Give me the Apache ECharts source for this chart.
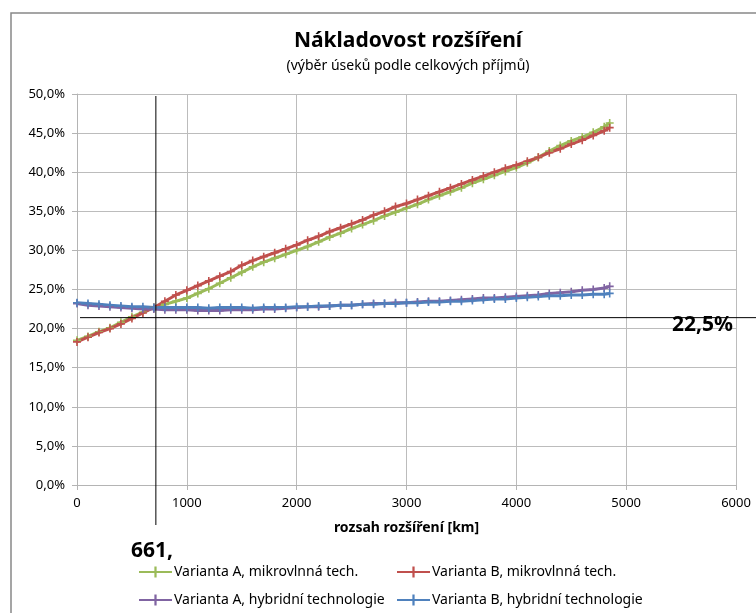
<!DOCTYPE html>
<html>
<head>
<meta charset="utf-8">
<title>Nákladovost rozšíření</title>
<script src="https://cdn.jsdelivr.net/npm/echarts@6/dist/echarts.min.js"></script>
<style>
  html, body { margin: 0; padding: 0; background: #fff; }
  #chart { width: 756px; height: 613px; }
</style>
</head>
<body>
<div id="chart"></div>
<script>
// rozsah rozšíření [km]
const km = [
  0, 100, 200, 300, 400, 500, 600, 700, 800, 900,
  1000, 1100, 1200, 1300, 1400, 1500, 1600, 1700, 1800, 1900,
  2000, 2100, 2200, 2300, 2400, 2500, 2600, 2700, 2800, 2900,
  3000, 3100, 3200, 3300, 3400, 3500, 3600, 3700, 3800, 3900,
  4000, 4100, 4200, 4300, 4400, 4500, 4600, 4700, 4800, 4850
];

// nákladovost [%]
const aMikro = [
  18.5, 19.0, 19.6, 20.1, 20.8, 21.5, 22.1, 22.7, 23.1, 23.5,
  23.9, 24.5, 25.1, 25.8, 26.5, 27.2, 27.9, 28.5, 29.0, 29.5,
  30.0, 30.5, 31.1, 31.7, 32.2, 32.8, 33.3, 33.8, 34.4, 34.9,
  35.4, 35.9, 36.5, 37.0, 37.5, 38.0, 38.6, 39.1, 39.6, 40.1,
  40.6, 41.2, 41.9, 42.7, 43.4, 44.0, 44.5, 45.1, 45.8, 46.3
];
const bMikro = [
  18.3, 18.9, 19.5, 20.0, 20.6, 21.3, 22.0, 22.7, 23.5, 24.3,
  24.9, 25.5, 26.1, 26.7, 27.3, 28.1, 28.7, 29.2, 29.7, 30.2,
  30.7, 31.3, 31.8, 32.4, 32.9, 33.4, 33.9, 34.5, 35.0, 35.6,
  36.0, 36.5, 37.0, 37.5, 38.0, 38.5, 39.0, 39.5, 40.0, 40.5,
  40.9, 41.4, 41.9, 42.5, 43.0, 43.6, 44.1, 44.7, 45.3, 45.7
];
const aHybrid = [
  23.2, 23.0, 22.9, 22.8, 22.7, 22.6, 22.5, 22.5, 22.4, 22.4,
  22.4, 22.3, 22.3, 22.3, 22.4, 22.4, 22.4, 22.5, 22.5, 22.6,
  22.7, 22.8, 22.8, 22.9, 23.0, 23.0, 23.1, 23.2, 23.2, 23.3,
  23.3, 23.4, 23.5, 23.5, 23.6, 23.7, 23.8, 23.9, 23.9, 24.0,
  24.1, 24.2, 24.3, 24.5, 24.6, 24.7, 24.9, 25.0, 25.2, 25.4
];
const bHybrid = [
  23.3, 23.2, 23.1, 23.0, 22.9, 22.8, 22.8, 22.7, 22.7, 22.7,
  22.7, 22.7, 22.6, 22.7, 22.7, 22.7, 22.6, 22.7, 22.7, 22.7,
  22.8, 22.8, 22.9, 22.9, 23.0, 23.0, 23.1, 23.1, 23.2, 23.2,
  23.3, 23.3, 23.4, 23.4, 23.5, 23.5, 23.6, 23.7, 23.8, 23.8,
  23.9, 24.0, 24.1, 24.2, 24.2, 24.3, 24.3, 24.4, 24.4, 24.5
];

const seriesNames = [
  "Varianta A, mikrovlnná tech.",
  "Varianta B, mikrovlnná tech.",
  "Varianta A, hybridní technologie",
  "Varianta B, hybridní technologie"
];
const seriesColors = ["#9bbb59", "#c0504d", "#8064a2", "#4f81bd"];
const seriesData = [aMikro, bMikro, aHybrid, bHybrid];

// vodicí čáry
const cutKm = 718;
const cutPct = 21.4;
const cutKmLabel = "661,";
const cutPctLabel = "22,5%";

const font = "'Noto Sans', 'Open Sans', sans-serif";
const plus = "path://M4,0h2v4h4v2h-4v4h-2v-4h-4v-2h4z";

function pct(v) {
  return v.toFixed(1).replace(".", ",") + "%";
}

// jedna položka legendy = jedna komponenta (2 sloupce x 2 řádky)
const legendSlots = [
  { left: 138, top: 565 },
  { left: 396, top: 565 },
  { left: 138, top: 593 },
  { left: 396, top: 593 }
];

const chart = echarts.init(document.getElementById("chart"));

chart.setOption({
  animation: false,
  textStyle: { fontFamily: font },
  title: {
    text: "Nákladovost rozšíření",
    subtext: "(výběr úseků podle celkových příjmů)",
    left: 403,
    textAlign: "center",
    top: 26,
    itemGap: 7,
    textStyle: { fontFamily: font, fontSize: 21, fontWeight: "bold", color: "#000" },
    subtextStyle: { fontFamily: font, fontSize: 14, color: "#000" }
  },
  legend: seriesNames.map((name, i) => ({
    data: [name],
    left: legendSlots[i].left,
    top: legendSlots[i].top,
    padding: 0,
    itemWidth: 33,
    itemHeight: 14,
    textStyle: { fontFamily: font, fontSize: 14, color: "#000", padding: [0, 0, 0, -3] }
  })),
  grid: { left: 77, right: 20, top: 94, bottom: 128 },
  xAxis: {
    type: "value",
    min: 0,
    max: 6000,
    interval: 1000,
    name: "rozsah rozšíření [km]",
    nameLocation: "middle",
    nameGap: 36,
    nameTextStyle: { fontFamily: font, fontSize: 14, fontWeight: "bold", color: "#000" },
    axisLine: { lineStyle: { color: "#b4b4b4" } },
    axisTick: { show: true, length: 5, lineStyle: { color: "#b4b4b4" } },
    axisLabel: { fontSize: 13, color: "#000", margin: 12, formatter: (v) => String(v) },
    splitLine: { show: true, lineStyle: { color: "#bcbcbc" } }
  },
  yAxis: {
    type: "value",
    min: 0,
    max: 50,
    interval: 5,
    axisLine: { show: true, lineStyle: { color: "#b4b4b4" } },
    axisTick: { show: true, length: 5, lineStyle: { color: "#b4b4b4" } },
    axisLabel: { fontSize: 13, color: "#000", margin: 12, formatter: pct },
    splitLine: { show: true, lineStyle: { color: "#bcbcbc" } }
  },
  series: seriesNames.map((name, i) => ({
    name: name,
    type: "line",
    data: km.map((x, j) => [x, seriesData[i][j]]),
    symbol: plus,
    symbolSize: 8,
    showSymbol: true,
    lineStyle: { width: 3, color: seriesColors[i] },
    itemStyle: { color: seriesColors[i] }
  }))
});

// čáry a popisky mimo plochu grafu dopočítané z os
const pCut = chart.convertToPixel({ gridIndex: 0 }, [cutKm, cutPct]);
const pTop = chart.convertToPixel({ gridIndex: 0 }, [cutKm, 50]);
const pLeft = chart.convertToPixel({ gridIndex: 0 }, [0, cutPct]);

chart.setOption({
  graphic: [
    {
      type: "rect",
      silent: true,
      z: -10,
      shape: { x: 11, y: 13, width: 800, height: 700 },
      style: { fill: "none", stroke: "#888", lineWidth: 1.5 }
    },
    {
      type: "line",
      silent: true,
      z: 100,
      shape: { x1: pLeft[0] + 3, y1: pCut[1], x2: 756, y2: pCut[1] },
      style: { stroke: "#000", lineWidth: 1 }
    },
    {
      type: "line",
      silent: true,
      z: 100,
      shape: { x1: pCut[0], y1: pTop[1] + 2, x2: pCut[0], y2: 525 },
      style: { stroke: "#000", lineWidth: 1 }
    },
    {
      type: "text",
      silent: true,
      z: 100,
      left: 672,
      top: pCut[1] - 3,
      style: { text: cutPctLabel, fontFamily: font, fontSize: 21, fontWeight: "bold", fill: "#000" }
    },
    {
      type: "text",
      silent: true,
      z: 100,
      left: 131,
      top: 541,
      style: { text: cutKmLabel, fontFamily: font, fontSize: 21, fontWeight: "bold", fill: "#000" }
    }
  ]
});
</script>
</body>
</html>
